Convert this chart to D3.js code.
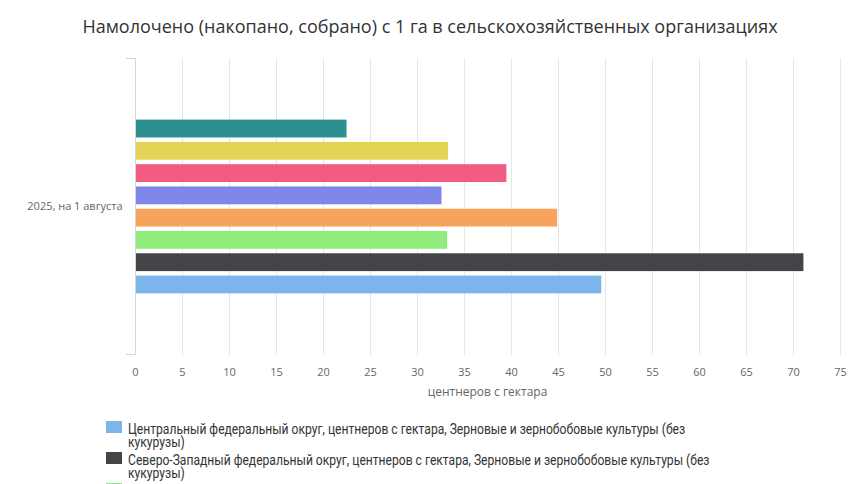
<!DOCTYPE html>
<html>
<head>
<meta charset="utf-8">
<script src="https://cdn.jsdelivr.net/npm/d3@7"></script>
<style>
  body { margin: 0; background: #fff; }
  svg { display: block; }
</style>
</head>
<body>
<svg id="chart" width="860" height="484"></svg>
<script>
// data
const category = "2025, на 1 августа";
const seriesNames = [
    "Центральный федеральный округ, центнеров с гектара, Зерновые и зернобобовые культуры (без кукурузы)",
    "Северо-Западный федеральный округ, центнеров с гектара, Зерновые и зернобобовые культуры (без кукурузы)",
    "Южный федеральный округ, центнеров с гектара, Зерновые и зернобобовые культуры (без кукурузы)",
    "Северо-Кавказский федеральный округ",
    "Приволжский федеральный округ",
    "Уральский федеральный округ",
    "Сибирский федеральный округ",
    "Дальневосточный федеральный округ"
];
const seriesValues = [49.5, 71.0, 33.1, 44.8, 32.5, 39.4, 33.2, 22.4];
const seriesColors = ["#7cb5ec", "#434348", "#90ed7d", "#f7a35c", "#8085e9", "#f15c80", "#e4d354", "#2b908f"];
const xTicks = d3.range(0, 80, 5);

const titleText = "Намолочено (накопано, собрано) с 1 га в сельскохозяйственных организациях";
const xAxisTitle = "центнеров с гектара";

const width = 860, height = 484;
const svg = d3.select('#chart');
const font = "'Open Sans', 'DejaVu Sans', sans-serif";

// plot area
const plotLeft = 135, plotRight = 840, plotTop = 58, plotBottom = 355;

const x = d3.scaleLinear().domain([0, 75]).range([plotLeft, plotRight]);
const yCat = d3.scaleBand().domain([category]).range([plotTop, plotBottom]);

// bars inside the category group: first series at the bottom
const groupPad = 0.2 * yCat.bandwidth();
const ySeries = d3.scaleBand()
    .domain(d3.range(seriesValues.length).reverse())
    .range([yCat(category) + groupPad, yCat(category) + yCat.bandwidth() - groupPad])
    .paddingInner(0.2)
    .paddingOuter(0.1);

svg.append('text')
    .attr('x', 430)
    .attr('y', 33)
    .attr('text-anchor', 'middle')
    .attr('font-family', font)
    .attr('font-size', 18)
    .attr('fill', '#333')
    .text(titleText);

// vertical grid lines
svg.append('g')
    .selectAll('line')
    .data(xTicks)
    .enter()
    .append('line')
    .attr('x1', d => x(d) + 0.5)
    .attr('x2', d => x(d) + 0.5)
    .attr('y1', plotTop)
    .attr('y2', plotBottom)
    .attr('stroke', '#e6e6e6')
    .attr('stroke-width', 1);

// x axis, labels only
const xAxis = svg.append('g')
    .attr('transform', `translate(0, ${plotBottom})`)
    .call(d3.axisBottom(x).tickValues(xTicks).tickSize(0).tickPadding(13));
xAxis.select('.domain').remove();
xAxis.selectAll('text')
    .attr('font-family', font)
    .attr('font-size', 11)
    .attr('fill', '#666');

svg.append('text')
    .attr('x', (plotLeft + plotRight) / 2)
    .attr('y', 396)
    .attr('text-anchor', 'middle')
    .attr('font-family', font)
    .attr('font-size', 12)
    .attr('fill', '#666')
    .text(xAxisTitle);

// category axis on the left
const yAxis = svg.append('g')
    .attr('transform', `translate(${plotLeft + 0.5}, 0)`)
    .call(d3.axisLeft(yCat).tickSize(0).tickPadding(13));
yAxis.select('.domain').remove();
yAxis.selectAll('text')
    .attr('font-family', font)
    .attr('font-size', 11)
    .attr('fill', '#666');

const axisColor = '#c8dcd8';
svg.append('path')
    .attr('d', `M${plotLeft - 9},${plotTop + 0.5}H${plotLeft + 0.5}V${plotBottom - 0.5}H${plotLeft - 9}`)
    .attr('fill', 'none')
    .attr('stroke', axisColor)
    .attr('stroke-width', 1);

// bars
svg.append('g')
    .selectAll('rect')
    .data(seriesValues)
    .enter()
    .append('rect')
    .attr('x', x(0) + 1)
    .attr('y', (d, i) => ySeries(i))
    .attr('width', d => x(d) - x(0))
    .attr('height', ySeries.bandwidth())
    .attr('fill', (d, i) => seriesColors[i]);

// legend: wraps to two lines, the rest runs past the bottom edge
const legendX = 106, legendY = 421, itemStep = 31, lineStep = 13;
const visibleItems = seriesNames
    .map((name, i) => ({ name, i, top: legendY + i * itemStep }))
    .filter(d => d.top < height);

const legend = svg.append('g');
legend.selectAll('rect')
    .data(visibleItems)
    .enter()
    .append('rect')
    .attr('x', legendX)
    .attr('y', d => d.top)
    .attr('width', 16)
    .attr('height', 12)
    .attr('fill', d => seriesColors[d.i]);

visibleItems.forEach(d => {
    const cut = d.name.indexOf(' кукурузы)');
    const lines = cut > 0 ? [d.name.slice(0, cut), d.name.slice(cut + 1)] : [d.name];
    lines.forEach((line, k) => {
        const baseline = d.top + 13 + k * lineStep;
        if (baseline > height) return;
        legend.append('text')
            .attr('font-family', "Roboto, 'Noto Sans', sans-serif")
            .attr('font-size', 14)
            .attr('fill', '#333')
            .attr('transform', `translate(128, ${baseline}) scale(0.865, 1)`)
            .text(line);
    });
});
</script>
</body>
</html>
